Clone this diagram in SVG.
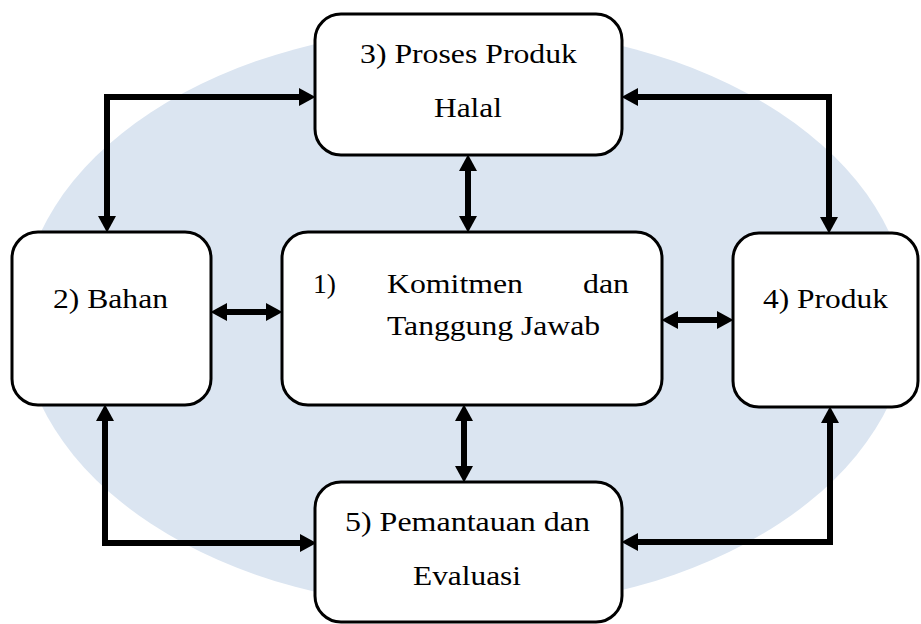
<svg xmlns="http://www.w3.org/2000/svg" width="921" height="624" viewBox="0 0 921 624">
<style>
.box{fill:#fff;stroke:#000;stroke-width:3}
.t{font-family:'Liberation Serif','DejaVu Serif',serif;font-size:28px;fill:#000}
.c{fill:none;stroke:#000;stroke-width:6;marker-start:url(#ah);marker-end:url(#ah)}
</style>
<defs>
<marker id="ah" markerUnits="userSpaceOnUse" markerWidth="17" markerHeight="19" viewBox="0 0 17 19" refX="2" refY="9.5" orient="auto-start-reverse">
<path d="M0,0.5 L16.5,9.5 L0,18.5 z" fill="#000"/>
</marker>
</defs>
<ellipse cx="465" cy="318" rx="444" ry="291" fill="#DBE5F1"/>
<g id="connectors">
<path class="c" d="M301,97 L107,97 L107,218"/>
<path class="c" d="M636,97 L829,97 L829,219"/>
<path class="c" d="M105,419 L105,543 L302,543"/>
<path class="c" d="M830,421 L830,542 L636,542"/>
<path class="c" d="M225,312 L268,312"/>
<path class="c" d="M676,320 L719,320"/>
<path class="c" d="M468,169 L468,218"/>
<path class="c" d="M464,419 L464,468"/>
</g>
<g id="node1">
<rect class="box" x="282" y="232" width="380" height="173" rx="26"/>
<text class="t" x="313" y="293" textLength="23" lengthAdjust="spacingAndGlyphs">1)</text>
<text class="t" x="387" y="293" textLength="136" lengthAdjust="spacingAndGlyphs">Komitmen</text>
<text class="t" x="583" y="293" textLength="46" lengthAdjust="spacingAndGlyphs">dan</text>
<text class="t" x="387" y="335" textLength="213" lengthAdjust="spacingAndGlyphs">Tanggung Jawab</text>
</g>
<g id="node2">
<rect class="box" x="12" y="232" width="199" height="173" rx="26"/>
<text class="t" x="53" y="308" textLength="115" lengthAdjust="spacingAndGlyphs">2) Bahan</text>
</g>
<g id="node3">
<rect class="box" x="315" y="14" width="307" height="141" rx="26"/>
<text class="t" x="360" y="63" textLength="217" lengthAdjust="spacingAndGlyphs">3) Proses Produk</text>
<text class="t" x="434" y="117" textLength="68" lengthAdjust="spacingAndGlyphs">Halal</text>
</g>
<g id="node4">
<rect class="box" x="733" y="233" width="185" height="174" rx="26"/>
<text class="t" x="763" y="308" textLength="125" lengthAdjust="spacingAndGlyphs">4) Produk</text>
</g>
<g id="node5">
<rect class="box" x="315" y="482" width="307" height="140" rx="26"/>
<text class="t" x="345" y="531" textLength="245" lengthAdjust="spacingAndGlyphs">5) Pemantauan dan</text>
<text class="t" x="413" y="585" textLength="108" lengthAdjust="spacingAndGlyphs">Evaluasi</text>
</g>
</svg>
